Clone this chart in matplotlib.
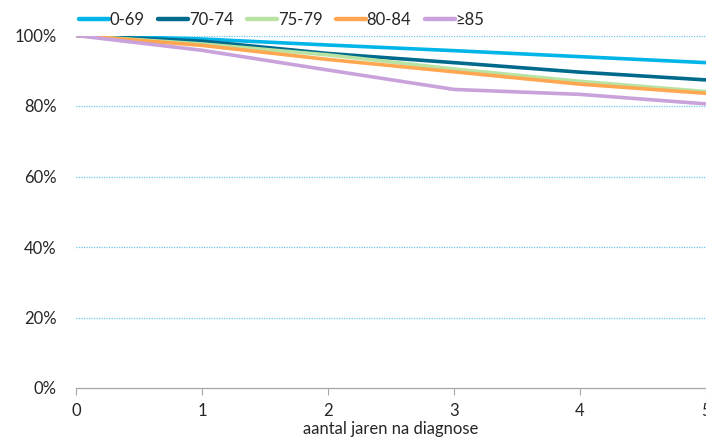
import matplotlib
matplotlib.use("Agg")
import matplotlib.pyplot as plt
from matplotlib.ticker import FuncFormatter

plt.rcParams['font.family'] = ['Lato', 'DejaVu Sans']

years = [0, 1, 2, 3, 4, 5]
labels = ["0-69", "70-74", "75-79", "80-84", "≥85"]
s_0_69 = [100, 99.0, 97.3, 95.7, 94.0, 92.3]
s_70_74 = [100, 98.4, 94.9, 92.3, 89.6, 87.4]
s_75_79 = [100, 97.6, 94.5, 90.5, 87.0, 84.1]
s_80_84 = [100, 97.2, 93.2, 89.7, 86.2, 83.6]
s_85 = [100, 95.8, 90.2, 84.7, 83.3, 80.6]
series = [s_0_69, s_70_74, s_75_79, s_80_84, s_85]
colors = ["#00b5e8", "#006a8c", "#b8e3a2", "#ffa650", "#c9a2dc"]

W, H = 706, 442
fig = plt.figure(figsize=(W / 100, H / 100), dpi=100)
ax = fig.add_axes([76 / W, (H - 388) / H, 630 / W, (388 - 35.5) / H])

for vals, lab, c in zip(series, labels, colors):
    ax.plot(years, vals, color=c, lw=2.6, label=lab, solid_capstyle='butt')

ax.set_xlim(0, 5)
ax.set_ylim(0, 100)
ax.set_yticks([0, 20, 40, 60, 80, 100])
ax.yaxis.set_major_formatter(FuncFormatter(lambda v, p: f"{int(v)}%"))
ax.set_xticks(years)
for y in [20, 40, 60, 80, 100]:
    ax.axhline(y, color="#6cc9ec", lw=0.9, ls=(0, (1, 1)), zorder=0)

for s in ["top", "right", "left"]:
    ax.spines[s].set_visible(False)
ax.spines["bottom"].set_color("#a6a6a6")
ax.spines["bottom"].set_linewidth(0.9)
ax.tick_params(axis="y", length=0, labelsize=12, colors="#262626", pad=14)
ax.tick_params(axis="x", length=5, color="#a6a6a6", labelsize=12, labelcolor="#262626", pad=6)
ax.set_xlabel("aantal jaren na diagnose", fontsize=12, color="#262626", labelpad=1)

leg = fig.legend(loc="upper left", bbox_to_anchor=(64 / W, 1 + 3 / H), ncol=5, frameon=False,
                 fontsize=12, handlelength=1.8, handletextpad=0.05, columnspacing=0.8,
                 labelcolor="#262626")
for h in leg.legend_handles:
    h.set_linewidth(3.2)
    h.set_solid_capstyle('round')

fig.savefig("out.png", dpi=100)
